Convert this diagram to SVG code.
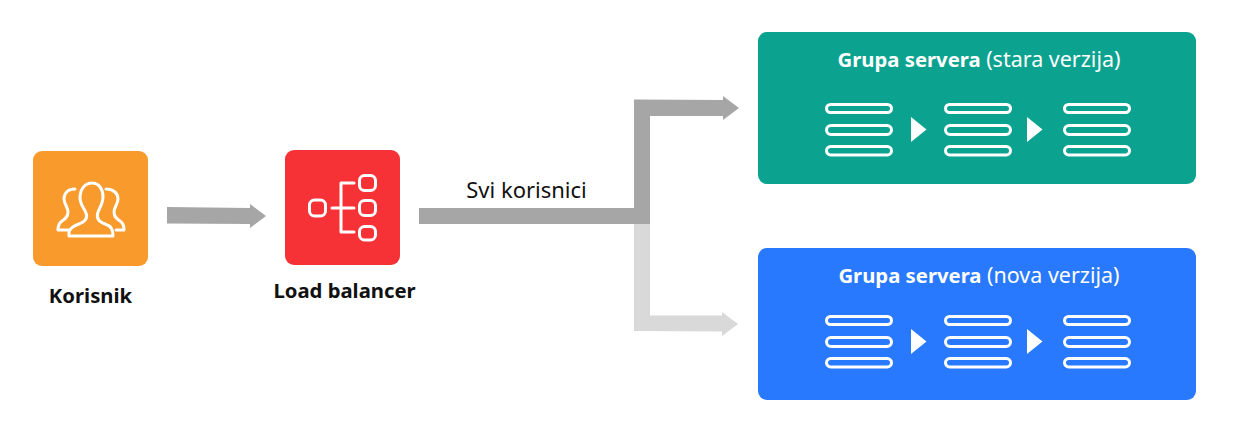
<svg xmlns="http://www.w3.org/2000/svg" width="1244" height="432" viewBox="0 0 1244 432">
<style>
text{font-family:"Noto Sans","Open Sans",sans-serif;font-size:21.500px;fill:#111}
.b{font-weight:700;font-size:20.300px}
.t{text-anchor:middle;fill:#fff}
.s{fill:none;stroke:#fff;stroke-width:3}
.i{fill:none;stroke:#fff;stroke-width:3;stroke-linejoin:round;stroke-linecap:round}
.tri{fill:#fff}
</style>
<defs>
<g id="srv"><rect class="s" x="1.500" y="1.500" width="65" height="8" rx="4"/><rect class="s" x="1.500" y="22.500" width="65" height="9" rx="4.500"/><rect class="s" x="1.500" y="43.500" width="65" height="8.500" rx="4.200"/></g>
<g id="rack"><use href="#srv" x="825"/><use href="#srv" x="944"/><use href="#srv" x="1063"/><path class="tri" d="M911 14V39L926.500 26.500Z"/><path class="tri" d="M1027 14V39L1042.500 26.500Z"/></g>
</defs>
<g id="connectors">
<path fill="#d9d9d9" d="M634 224H650V315.500H722V312L738 324L722 336V331.500L634 331Z"/>
<path fill="#a6a6a6" d="M419 208H634V99.500L723 100V96L739 108L723 120V116H650V224H419Z"/>
<path fill="#a6a6a6" d="M167 207L250 208V204L266 216L250 228V224L167 223.500Z"/>
</g>
<g id="korisnik">
<rect x="33" y="151" width="115" height="115" rx="9" fill="#f99a2c"/>
<path class="i" d="M69 236V232C70 228 73 226 79 224C85 222 88 218 86 213C84 208 80 204 80 198C80 189 85 183 92 183C99 183 103 189 103 197C103 203 100 207 98 212C96 218 99 222 105 224C111 226 113 229 113 236Z"/>
<path class="i" d="M75 189C68 189 64 193 64 199C64 204 68 207 68 212C68 217 65 219 62 221C59 223 58 226 58 230H68"/>
<path class="i" d="M106 189C113 189 118 193 118 199C118 204 114 207 114 212C114 217 117 219 120 221C123 223 124 226 124 230H116"/>
<text class="b" x="90.500" y="303" text-anchor="middle">Korisnik</text>
</g>
<g id="load-balancer">
<rect x="285" y="150" width="115" height="115" rx="9" fill="#f73237"/>
<rect class="i" x="309.500" y="200" width="16" height="16" rx="5"/>
<rect class="i" x="359.500" y="175.500" width="16" height="15" rx="5"/>
<rect class="i" x="359.500" y="200.500" width="16" height="15" rx="5"/>
<rect class="i" x="359.500" y="226.500" width="16" height="13.500" rx="5"/>
<path class="i" d="M332 208H354M354 183H341V232H354"/>
<text class="b" x="344.500" y="298" text-anchor="middle">Load balancer</text>
</g>
<text id="svi-korisnici-label" x="526.500" y="198" text-anchor="middle" style="font-size:22px">Svi korisnici</text>
<g id="grupa-stara">
<rect x="758" y="32" width="438" height="152" rx="9" fill="#0ba38f"/>
<text class="t" x="979" y="67"><tspan class="b">Grupa servera</tspan> (stara verzija)</text>
<use href="#rack" y="103"/>
</g>
<g id="grupa-nova">
<rect x="758" y="248" width="438" height="152" rx="9" fill="#2979ff"/>
<text class="t" x="979" y="283"><tspan class="b">Grupa servera</tspan> (nova verzija)</text>
<use href="#rack" y="315"/>
</g>
</svg>
